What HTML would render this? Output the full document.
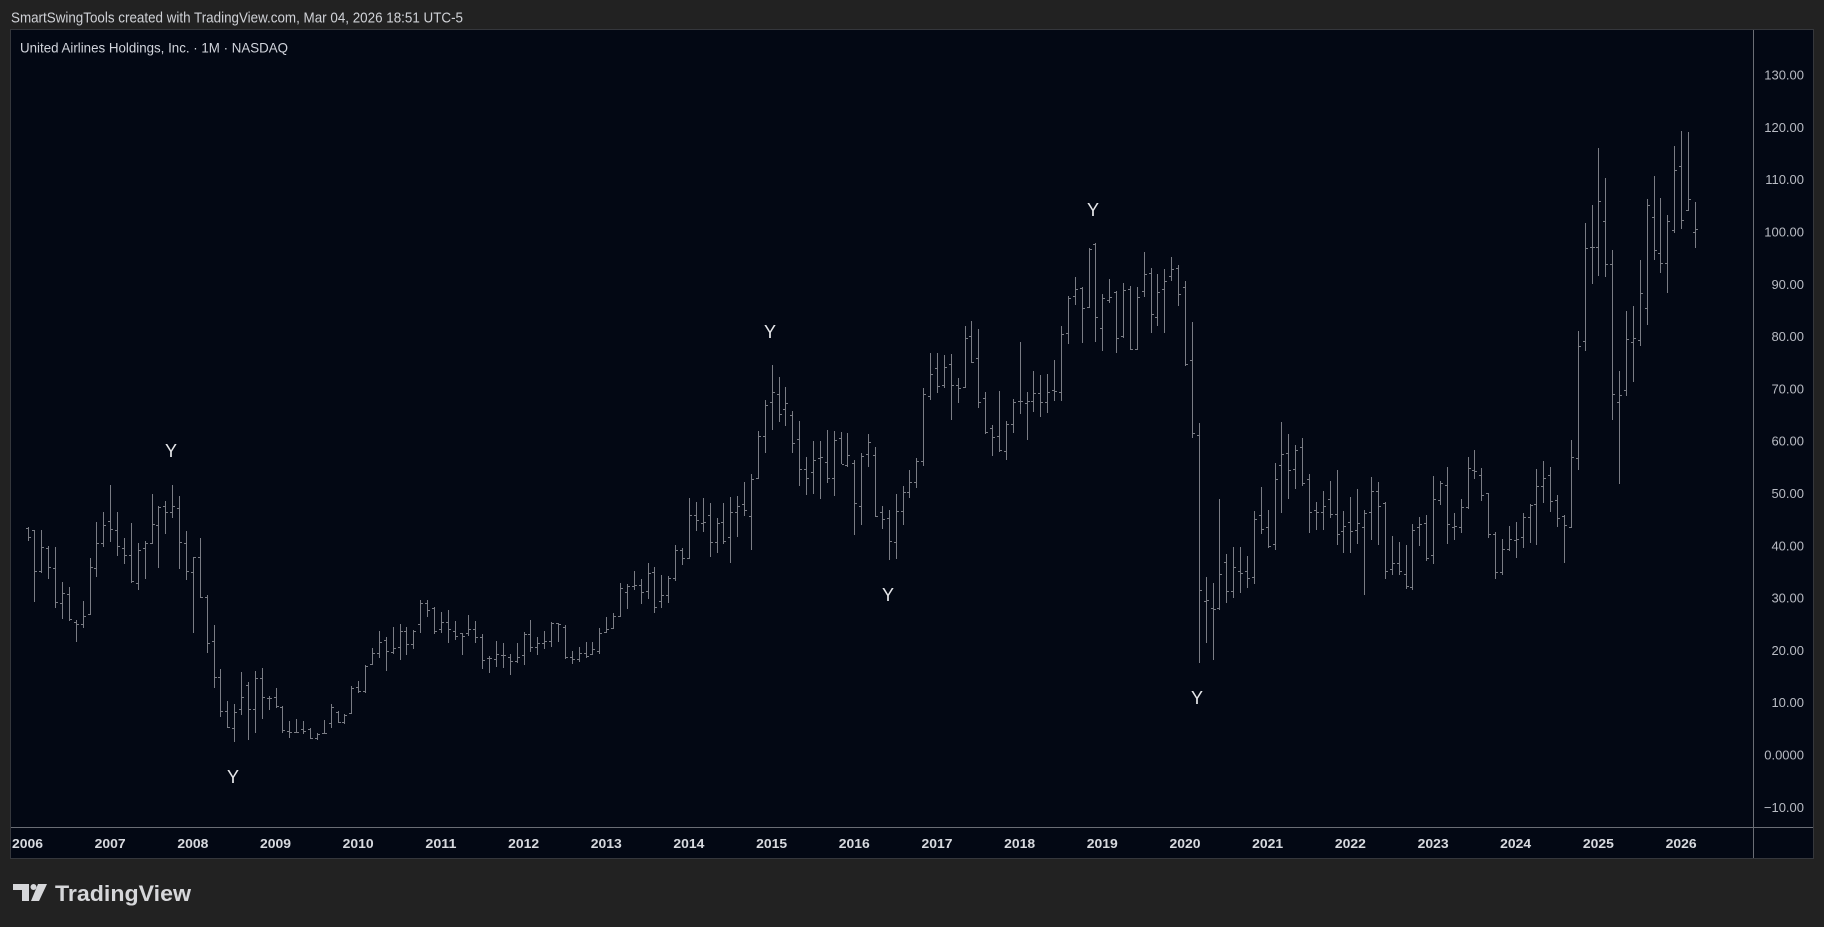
<!DOCTYPE html>
<html>
<head>
<meta charset="utf-8">
<style>
html,body{margin:0;padding:0;background:#222222;width:1824px;height:927px;overflow:hidden;}
svg{display:block;}
text{font-family:"Liberation Sans",sans-serif;}
</style>
</head>
<body>
<svg id="c" width="1824" height="927" viewBox="0 0 1824 927" xmlns="http://www.w3.org/2000/svg">
  <rect x="0" y="0" width="1824" height="927" fill="#222222"/>
  <text x="11" y="22.7" font-size="15" fill="#cfd1d6" textLength="452" lengthAdjust="spacingAndGlyphs">SmartSwingTools created with TradingView.com, Mar 04, 2026 18:51 UTC-5</text>
  <rect x="10.5" y="29.5" width="1803" height="829" fill="#030814" stroke="#35373c" stroke-width="1"/>
  <text x="20" y="52.7" font-size="14" fill="#d1d4dc" textLength="268" lengthAdjust="spacingAndGlyphs">United Airlines Holdings, Inc. · 1M · NASDAQ</text>
  <line x1="1753.5" y1="30" x2="1753.5" y2="858" stroke="#6a6d75" stroke-width="1"/>
  <line x1="11" y1="827.5" x2="1813" y2="827.5" stroke="#6a6d75" stroke-width="1"/>
  <g id="bars"></g>
  <g id="labels"></g>
  <g fill="#e6e7ea" font-size="18" text-anchor="middle">
    <text x="171" y="457">Y</text>
    <text x="233" y="783">Y</text>
    <text x="770" y="338">Y</text>
    <text x="888" y="601">Y</text>
    <text x="1093" y="216">Y</text>
    <text x="1197" y="704">Y</text>
  </g>
  <!-- TradingView logo -->
  <g fill="#d6d7da">
    <rect x="13" y="884" width="16" height="6"/>
    <rect x="22" y="884" width="7" height="17"/>
    <circle cx="33.5" cy="887" r="3"/>
    <polygon points="38,884 47,884 39,901 31,901"/>
  </g>
  <text x="55" y="901" font-size="22" font-weight="bold" fill="#d6d7da" textLength="136" lengthAdjust="spacingAndGlyphs">TradingView</text>
</svg>
<script>
(function(){
var chunks=[
{yo:430,s:0,d:[
[290,330,295,320],[300,512,300,422],[300,425,424,350],[348,445,355,412],[352,530,413,515],[457,565,518,490],[472,570,492,567],[570,632,575,582],[513,590,583,558],[385,553,552,412],[277,437,414,340],[246,347,340,285],[165,332,272,298],[246,375,300,348],[325,400,355,376],[280,455,376,453],[340,478,460,360],[333,443,355,340],[192,340,340,283],[227,410,285,232],[213,308,227,247],[165,260,247,227],[198,413,235,335],[302,448,340,423],[380,605,425,380],[325,500,380,500],[495,665,502,638],[586,772,632,742],[717,858,742,843],[814,892,843,890],[822,932,895,847],[727,853,838,800],[755,928,765,838],[723,905,838,745],[715,865,743,800],[798,838,805,805],[775,832,800,828],[828,905,830,900],[873,920,903,905],[868,905,905,905]]},
{yo:560,s:40,d:[
[483,518,508,513],[505,535,508,535],[520,537,535,522],[480,520,520,518],[433,500,490,440],[453,487,455,485],[462,488,485,465],[378,460,460,383],[363,395,382,393],[315,395,393,318],[265,313,313,280],[212,290,280,245],[232,330,240,273],[200,280,275,265],[192,297,262,212],[202,283,212,253],[211,263,253,213],[120,215,192,130],[120,167,130,150],[140,220,145,213],[157,215,208,187],[150,245,187,208],[183,237,213,228],[218,281,220,228],[165,225,218,208],[183,245,207,232],[222,325,230,300],[287,335,295,295],[243,318,298,283],[250,320,285,285],[283,341,292,303],[250,305,303,292],[215,313,285,222],[180,272,222,262],[232,283,262,248],[213,263,248,242],[185,258,243,190],[188,242,190,193],[195,293,200,290],[273,310,292,297],[260,302,298,280],[245,290,280,287],[245,283,283,268]]},
{yo:350,s:83,d:[
[835,908,903,850],[800,845,845,838],[790,835,835,797],[700,797,797,715],[703,775,727,708],[663,718,707,705],[687,760,705,725],[640,743,723,668],[652,785,667,770],[676,770,753,735],[678,757,735,685],[586,690,685,600],[594,643,600,623],[445,625,625,495],[457,540,495,510],[444,543,520,517],[460,617,495,575],[505,605,577,520],[460,578,517,573],[440,637,562,487],[438,557,487,467],[395,495,463,480],[373,596,498,388],[243,385,385,257],[150,305,258,165],[45,236,155,127],[82,212,132,193],[112,224,178,158],[183,305,195,280],[213,404,268,357],[322,431,357,385],[273,428,367,330],[273,443,325,322],[241,395,337,385],[244,434,385,270],[247,340,265,342],[250,347,345,316],[330,553,340,460],[310,523,468,318],[253,347,313,277],[292,498,316,497],[468,533,485,507],[480,626,505,572]]},
{yo:230,s:126,d:[
[793,983,935,842],[768,882,842,785],[720,800,785,755],[685,770,755,693],[475,705,693,493],[369,506,498,432],[369,486,415,468],[376,470,465,410],[372,567,402,465],[445,516,465,475],[288,472,470,325],[273,397,318,395],[297,530,385,515],[487,610,505,605],[585,675,595,622],[483,663,618,660],[573,686,663,583],[507,605,583,517],[336,548,512,512],[487,627,520,512],[423,543,512,488],[435,558,490,517],[432,545,515,485],[390,510,480,482],[288,510,487,313],[198,338,308,205],[142,222,197,178],[170,336,175,235],[55,230,230,58],[40,333,42,262],[192,360,295,205],[147,215,210,200],[183,366,185,325],[160,322,317,180],[168,358,178,358],[172,358,358,202],[67,197,182,133],[115,306,130,253],[132,285,262,187],[117,305,178,152],[82,150,137,118],[104,225,115,193],[153,406,170,403]]},
{yo:240,s:169,d:[
[245,590,360,580],[548,1265,585,1050],[1010,1205,1082,1080],[1030,1258,1105,1108],[776,1107,1105,1002],[942,1085,967,1053],[920,1070,1053,982],[920,1055,993,998],[947,1040,993,1015],[812,1028,1012,837],[740,878,826,868],[810,920,862,918],[668,928,912,718],[545,815,676,643],[582,775,640,690],[615,745,688,630],[594,734,620,728],[702,875,718,815],[786,866,810,817],[752,868,815,798],[722,830,777,823],[690,913,823,883],[813,935,872,858],[770,935,845,873],[747,910,870,850],[810,1063,862,820],[710,898,817,753],[725,913,753,798],[787,1015,790,992],[887,1003,988,970],[905,1003,970,993],[914,1045,1003,1037],[852,1048,1040,870],[830,915,862,852],[825,960,850,955],[707,968,945,777],[722,793,780,730],[681,910,735,853],[818,898,860,858],[776,875,862,802],[650,805,802,685],[630,715,690,692]]},
{yo:120,s:211,d:[
[1043,1140,1065,1125],[1118,1250,1120,1243],[1237,1375,1243,1357],[1257,1362,1357,1288],[1218,1290,1288,1258],[1206,1312,1260,1258],[1180,1280,1252,1192],[1152,1265,1192,1155],[1047,1273,1153,1099],[1023,1147,1099,1075],[1041,1172,1066,1143],[1125,1217,1140,1194],[1185,1325,1189,1216],[960,1220,1220,1012],[633,1046,1015,679],[309,690,664,385],[255,488,380,382],[84,464,380,244],[175,467,304,433],[390,898,433,823],[753,1088,847,826],[573,824,811,658],[558,782,666,655],[420,674,661,520],[237,611,565,256],[168,416,290,391],[234,455,400,430],[285,515,430,304],[78,335,331,151],[33,323,139,300],[36,271,271,238],[246,380,337,328]]}
];
var p="";
for(var c=0;c<chunks.length;c++){
  var ch=chunks[c];
  for(var k=0;k<ch.d.length;k++){
    var b=ch.d[k], i=ch.s+k;
    var x=Math.round(27.5+6.89*i);
    var yh=Math.round(ch.yo+b[0]/3), yl=Math.round(ch.yo+b[1]/3);
    var yo=Math.round(ch.yo+b[2]/3), yc=Math.round(ch.yo+b[3]/3);
    if(yl<=yh) yl=yh+1;
    p+="M"+(x+0.5)+" "+yh+"V"+(yl+1);
    p+="M"+(x-2)+" "+(yo+0.5)+"H"+x;
    p+="M"+(x+1)+" "+(yc+0.5)+"H"+(x+3);
  }
}
var ns="http://www.w3.org/2000/svg";
var path=document.createElementNS(ns,"path");
path.setAttribute("d",p);
path.setAttribute("stroke","#7a7c84");
path.setAttribute("stroke-width","1");
path.setAttribute("fill","none");
path.setAttribute("shape-rendering","crispEdges");
document.getElementById("bars").appendChild(path);

var lg=document.getElementById("labels");
for(var v=130; v>=-10; v-=10){
  var y=755-5.23*v;
  var t=document.createElementNS(ns,"text");
  t.setAttribute("x","1804");
  t.setAttribute("y",(y+4.5).toFixed(1));
  t.setAttribute("font-size","13");
  t.setAttribute("fill","#b8bbc3");
  t.setAttribute("text-anchor","end");
  var s = v===0 ? "0.0000" : (v<0 ? "\u2212"+Math.abs(v).toFixed(2) : v.toFixed(2));
  t.textContent=s;
  lg.appendChild(t);
}
for(var yr=2006; yr<=2026; yr++){
  var xx=27.5+82.68*(yr-2006);
  var t2=document.createElementNS(ns,"text");
  t2.setAttribute("x",xx.toFixed(1));
  t2.setAttribute("y","848");
  t2.setAttribute("font-size","13");
  t2.setAttribute("font-weight","bold");
  t2.setAttribute("fill","#d8dadf");
  t2.setAttribute("text-anchor","middle");
  t2.setAttribute("textLength","31");
  t2.setAttribute("lengthAdjust","spacingAndGlyphs");
  t2.textContent=String(yr);
  lg.appendChild(t2);
}
})();
</script>
</body>
</html>
